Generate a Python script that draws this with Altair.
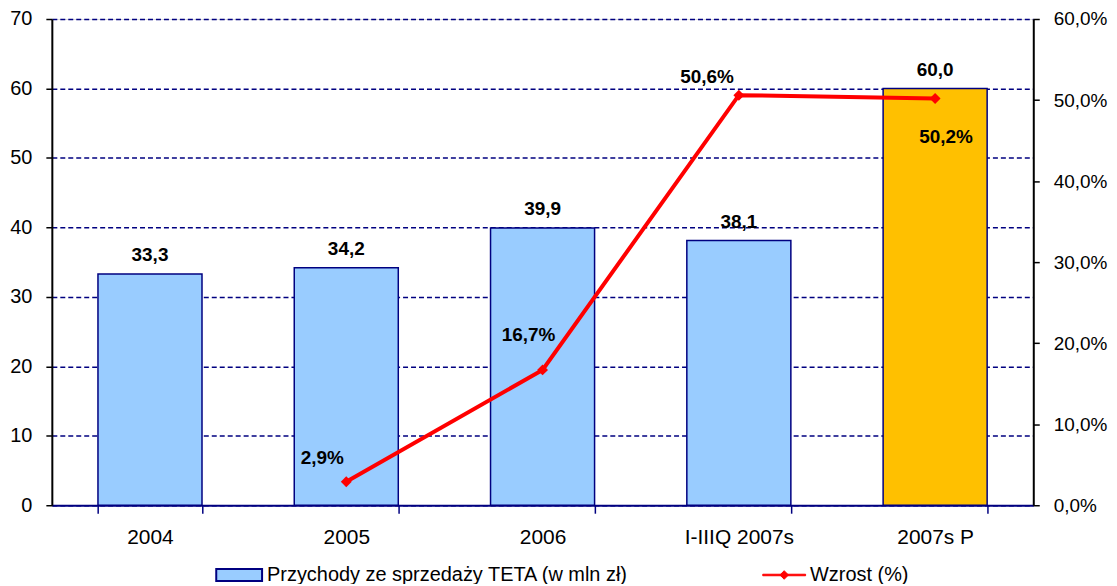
import altair as alt
import pandas as pd

categories = ["2004", "2005", "2006", "I-IIIQ 2007s", "2007s P"]
revenue = [33.3, 34.2, 39.9, 38.1, 60.0]
growth = [None, 2.9, 16.7, 50.6, 50.2]
bar_series = "Przychody ze sprzedaży TETA (w mln zł)"
line_series = "Wzrost (%)"

df = pd.DataFrame({"cat": categories, "rev": revenue, "growth": growth})
df["bar_series"] = bar_series
df["line_series"] = line_series

FONT = "Liberation Sans"
NAVY = "#000080"

xenc = alt.X("cat:N", sort=categories, title=None,
             scale=alt.Scale(paddingInner=0.47, paddingOuter=0.235),
             axis=alt.Axis(labelAngle=0, labelFontSize=21, labelColor="black",
                           labelFont=FONT, domainColor=NAVY, domainWidth=2,
                           tickColor=NAVY, tickWidth=1.5, tickSize=8,
                           tickBand="extent", labelPadding=13, grid=False))

yleft = alt.Y("rev:Q", title=None,
              scale=alt.Scale(domain=[0, 70]),
              axis=alt.Axis(values=list(range(0, 71, 10)), labelFontSize=20, labelFont=FONT,
                            labelColor="black", domainColor="black", domainWidth=2,
                            tickColor="black", tickSize=6, tickWidth=1.5, labelPadding=14,
                            grid=True, gridColor=NAVY, gridDash=[5, 3], gridWidth=1.7,
                            gridOpacity=1))

bars = alt.Chart(df).mark_bar(stroke=NAVY, strokeWidth=1.5).encode(
    x=xenc,
    y=yleft,
    fill=alt.condition(
        alt.datum.cat == "2007s P",
        alt.value("#FFC000"),
        alt.Fill("bar_series:N", scale=alt.Scale(range=["#99CCFF"]),
                 legend=alt.Legend(title=None, orient="none", legendX=164, legendY=534,
                                   symbolType="M-1,-0.26H1V0.26H-1Z", symbolSize=2116,
                                   symbolStrokeColor=NAVY, symbolStrokeWidth=2,
                                   labelFontSize=20, labelFont=FONT, labelColor="black",
                                   labelOffset=4, labelLimit=600)),
    ),
)

bar_labels = alt.Chart(df).transform_calculate(
    lbl="replace(format(datum.rev, '.1f'), '.', ',')"
).mark_text(fontWeight="bold", fontSize=19, font=FONT, dy=-19, color="black").encode(
    x=alt.X("cat:N", sort=categories),
    y=alt.Y("rev:Q", scale=alt.Scale(domain=[0, 70])),
    text="lbl:N",
)

left = alt.layer(bars, bar_labels)

yright = alt.Y("growth:Q", title=None,
               scale=alt.Scale(domain=[0, 60]),
               axis=alt.Axis(orient="right", values=list(range(0, 61, 10)),
                             labelExpr="replace(format(datum.value, '.1f'), '.', ',') + '%'",
                             labelFontSize=19, labelFont=FONT, labelColor="black",
                             domainColor="black", domainWidth=2, tickColor="black",
                             tickSize=6, tickWidth=1.5, labelPadding=14, grid=False))

line_base = alt.Chart(df).transform_filter("isValid(datum.growth)")

line = line_base.mark_line(strokeWidth=4).encode(
    x=alt.X("cat:N", sort=categories),
    y=yright,
    stroke=alt.Stroke("line_series:N", scale=alt.Scale(range=["#FF0000"]),
                      legend=alt.Legend(title=None, orient="none", legendX=713, legendY=536,
                                        symbolType="M-1,-0.035H1V0.035H-1Z M-0.2,0L0,-0.2L0.2,0L0,0.2Z",
                                        symbolSize=1849, symbolFillColor="#FF0000",
                                        symbolStrokeWidth=1,
                                        labelFontSize=20, labelFont=FONT, labelColor="black",
                                        labelOffset=4)),
)

points = line_base.mark_point(shape="diamond", filled=True, size=120, color="#FF0000", opacity=1).encode(
    x=alt.X("cat:N", sort=categories),
    y=alt.Y("growth:Q", scale=alt.Scale(domain=[0, 60])),
)

offsets = {"2005": (-24, -24), "2006": (-14, -35), "I-IIIQ 2007s": (-32, -18), "2007s P": (11, 39)}
pct_layers = []
for c, (dx, dy) in offsets.items():
    pct_layers.append(
        line_base.transform_filter(alt.datum.cat == c).transform_calculate(
            lbl="replace(format(datum.growth, '.1f'), '.', ',') + '%'"
        ).mark_text(fontWeight="bold", fontSize=19, font=FONT, dx=dx, dy=dy, color="black").encode(
            x=alt.X("cat:N", sort=categories),
            y=alt.Y("growth:Q", scale=alt.Scale(domain=[0, 60])),
            text="lbl:N",
        )
    )

right = alt.layer(line, points, *pct_layers)

chart = alt.layer(left, right).resolve_scale(y="independent").properties(
    width=985, height=488,
    autosize=alt.AutoSizeParams(type="none"),
    padding={"left": 44, "top": 10, "right": 76, "bottom": 78},
).configure_view(stroke="black", strokeWidth=1.5).configure(background="white")

chart.save("out.html", embed_options={"renderer": "svg", "actions": False})
